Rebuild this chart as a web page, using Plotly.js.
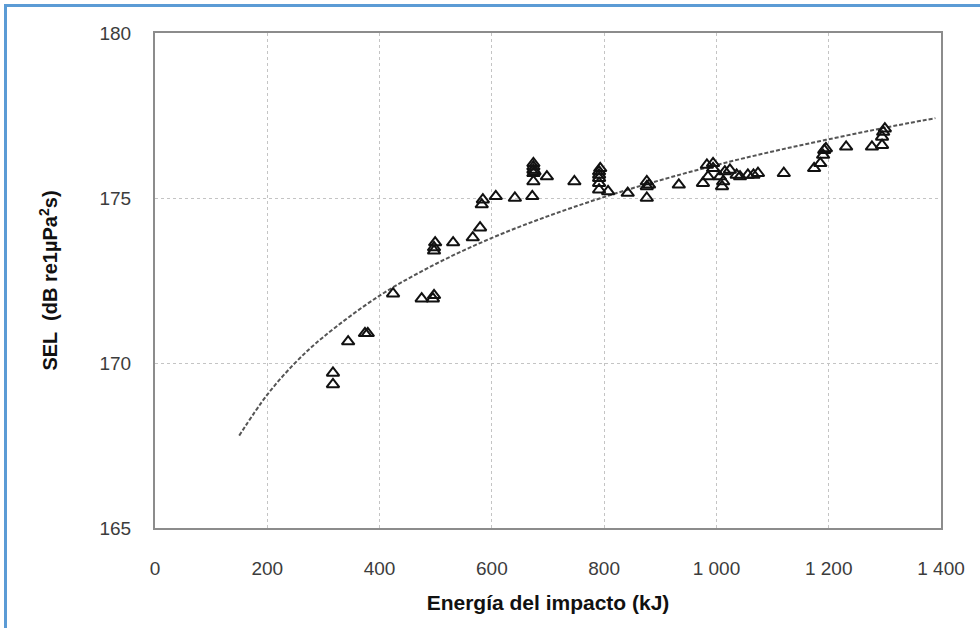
<!DOCTYPE html>
<html>
<head>
<meta charset="utf-8">
<script src="https://cdn.plot.ly/plotly-3.0.1.min.js"></script>
<style>
  html, body { margin: 0; padding: 0; background: #fff; }
  #wrap { position: relative; width: 980px; height: 628px; overflow: hidden; }
  #chart { width: 980px; height: 628px; }
  #edge { position: absolute; left: 4px; top: 4px; right: 0; bottom: 0;
          border-top: 3px solid #5b9bd5; border-left: 3px solid #5b9bd5;
          pointer-events: none; }
</style>
</head>
<body>
<div id="wrap">
  <div id="chart"></div>
  <div id="edge"></div>
</div>
<script>
// Measured impacts: hammer energy (kJ) and received sound exposure level
const energyKJ = [
  317, 317, 344, 374, 379, 424, 475, 495, 497, 497, 497, 499, 531, 566, 579, 582, 584,
  607, 641, 672, 674, 674, 674, 674, 674, 676, 698, 747, 791, 791, 791, 791, 791, 793,
  807, 842, 876, 876, 876, 880, 933, 976, 983, 985, 994, 994, 1006, 1010, 1012, 1015,
  1024, 1036, 1042, 1056, 1066, 1074, 1120, 1174, 1185, 1190, 1192, 1195, 1231, 1277,
  1295, 1295, 1297, 1300
];
const selDB = [
  169.7, 169.35, 170.65, 170.9, 170.9, 172.1, 171.95, 171.95, 172.05, 173.4, 173.5, 173.65,
  173.65, 173.8, 174.1, 174.8, 174.95, 175.05, 175.0, 175.05, 175.5, 175.75, 175.85, 175.95,
  176.05, 175.8, 175.65, 175.5, 175.25, 175.45, 175.6, 175.7, 175.8, 175.9, 175.2, 175.15,
  175.0, 175.35, 175.5, 175.4, 175.4, 175.45, 176.0, 175.65, 175.9, 176.05, 175.65, 175.35,
  175.5, 175.8, 175.85, 175.7, 175.65, 175.7, 175.7, 175.75, 175.75, 175.9, 176.05, 176.3,
  176.45, 176.5, 176.55, 176.55, 176.6, 176.85, 177.0, 177.1
];

// Logarithmic trend curve, sampled along its length
const trendKJ = [150, 200, 250, 300, 400, 500, 600, 700, 800, 900, 1000, 1100, 1200, 1300, 1390];
const trendDB = [167.8, 169.04, 170.01, 170.79, 172.04, 173.0, 173.79, 174.45, 175.03,
                 175.54, 176.0, 176.41, 176.78, 177.13, 177.42];

// Axis ticks
const xTicks = [0, 200, 400, 600, 800, 1000, 1200, 1400];
const yTicks = [165, 170, 175, 180];

const FONT = 'Liberation Sans, Arial, Helvetica, sans-serif';

const traces = [
  {
    x: trendKJ, y: trendDB, type: 'scatter', mode: 'lines',
    line: { color: '#555555', width: 2, dash: '4px,2px', shape: 'spline' },
    hoverinfo: 'skip', showlegend: false
  },
  {
    x: energyKJ, y: selDB, type: 'scatter', mode: 'markers',
    marker: { symbol: 'triangle-up-open', size: 11, color: '#111111',
              line: { width: 2, color: '#111111' } },
    showlegend: false
  }
];

const layout = {
  width: 980, height: 628,
  margin: { l: 155, r: 39, t: 33, b: 100 },
  paper_bgcolor: '#ffffff', plot_bgcolor: '#ffffff',
  separators: ', ',
  font: { family: FONT, color: '#3c3c3c' },
  xaxis: {
    range: [0, 1400], tickvals: xTicks, separatethousands: true,
    showgrid: true, gridcolor: '#c4c4c4', gridwidth: 1, griddash: 'dot',
    zeroline: false, showline: true, mirror: true, linecolor: '#8c8c8c', linewidth: 2,
    ticks: '', ticklabelstandoff: 22,
    tickfont: { family: FONT, size: 19, color: '#3c3c3c' },
    title: { text: '<b>Energía del impacto (kJ)</b>', standoff: 18,
             font: { family: FONT, size: 21, color: '#111111' } }
  },
  yaxis: {
    range: [165, 180], tickvals: yTicks,
    showgrid: true, gridcolor: '#c4c4c4', gridwidth: 1, griddash: 'dot',
    zeroline: false, showline: true, mirror: true, linecolor: '#8c8c8c', linewidth: 2,
    ticks: '', ticklabelstandoff: 18,
    tickfont: { family: FONT, size: 19, color: '#3c3c3c' },
    title: { text: '<b>SEL  (dB re1µPa<sup>2</sup>s)</b>', standoff: 36,
             font: { family: FONT, size: 20, color: '#111111' } }
  }
};

Plotly.newPlot('chart', traces, layout, { displayModeBar: false, staticPlot: true });
</script>
</body>
</html>
